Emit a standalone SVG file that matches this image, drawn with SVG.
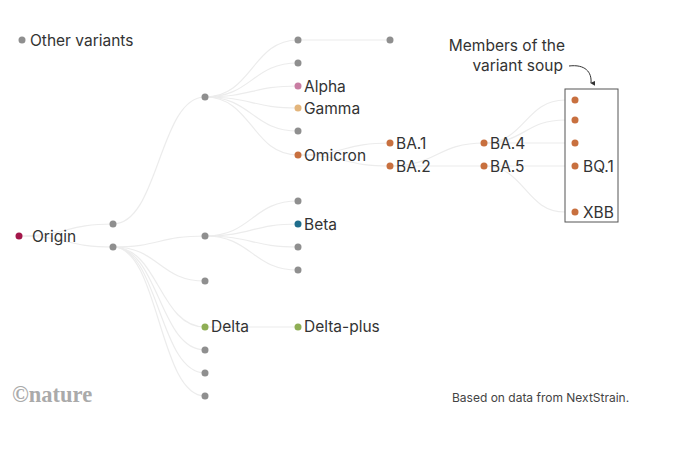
<svg xmlns="http://www.w3.org/2000/svg" width="675" height="451" viewBox="0 0 675 451">
<style>
text{font-family:"Inter","Liberation Sans",Arial,sans-serif;fill:#333;font-size:15.5px}
.d{fill:#8f8f8f}
.o{fill:#c8703f}
.c path{fill:none;stroke:#ececec;stroke-width:1.2}
.sm{font-size:12px;fill:#444}
</style>
<defs>
<marker id="ah" viewBox="0 0 6 6" refX="3" refY="5" markerWidth="5" markerHeight="5" orient="auto-start-reverse">
<path d="M0,0 L3,6 L6,0 Z" fill="#333"/>
</marker>
</defs>
<rect width="675" height="451" fill="#fff"/>
<g class="c" id="connectors">
<path d="M19,236 C66,236 66,224 113,224"/>
<path d="M19,236 C66,236 66,247 113,247"/>
<path d="M113,224 C159,224 159,97 205,97"/>
<path d="M113,247 C159,247 159,236 205,236"/>
<path d="M113,247 C159,247 159,281 205,281"/>
<path d="M113,247 C159,247 159,327 205,327"/>
<path d="M113,247 C159,247 159,350 205,350"/>
<path d="M113,247 C159,247 159,373 205,373"/>
<path d="M113,247 C159,247 159,396 205,396"/>
<path d="M205,97 C252,97 252,40 298,40"/>
<path d="M205,97 C252,97 252,63 298,63"/>
<path d="M205,97 C252,97 252,86 298,86"/>
<path d="M205,97 C252,97 252,108 298,108"/>
<path d="M205,97 C252,97 252,131 298,131"/>
<path d="M205,97 C252,97 252,155 298,155"/>
<path d="M205,236 C252,236 252,201 298,201"/>
<path d="M205,236 C252,236 252,224 298,224"/>
<path d="M205,236 C252,236 252,247 298,247"/>
<path d="M205,236 C252,236 252,270 298,270"/>
<path d="M205,327 L298,327"/>
<path d="M298,40 L390,40"/>
<path d="M298,155 C344,155 344,143 390,143"/>
<path d="M298,155 C344,155 344,166 390,166"/>
<path d="M390,166 C437,166 437,143 484,143"/>
<path d="M390,166 L484,166"/>
<path d="M484,143 C525,143 525,100 565,100"/>
<path d="M484,143 C525,143 525,120 565,120"/>
<path d="M484,143 L565,143"/>
<path d="M484,166 L565,166"/>
<path d="M484,166 C525,166 525,212 565,212"/>
</g>
<g id="legend"><circle cx="22" cy="40" r="3.5" class="d"/><text x="30" y="46">Other variants</text></g>
<g id="origin"><circle cx="19" cy="236" r="3.5" fill="#a3174a"/><text x="32" y="242">Origin</text></g>
<g id="n1a"><circle cx="113" cy="224" r="3.5" class="d"/></g>
<g id="n1b"><circle cx="113" cy="247" r="3.5" class="d"/></g>
<g id="n2a"><circle cx="205" cy="97" r="3.5" class="d"/></g>
<g id="n2b"><circle cx="205" cy="236" r="3.5" class="d"/></g>
<g id="n2c"><circle cx="205" cy="281" r="3.5" class="d"/></g>
<g id="delta"><circle cx="205" cy="327" r="3.5" fill="#8fae55"/><text x="211" y="332">Delta</text></g>
<g id="n2e"><circle cx="205" cy="350" r="3.5" class="d"/></g>
<g id="n2f"><circle cx="205" cy="373" r="3.5" class="d"/></g>
<g id="n2g"><circle cx="205" cy="396" r="3.5" class="d"/></g>
<g id="n3a"><circle cx="298" cy="40" r="3.5" class="d"/></g>
<g id="n3b"><circle cx="298" cy="63" r="3.5" class="d"/></g>
<g id="alpha"><circle cx="298" cy="86" r="3.5" fill="#c97ea3"/><text x="304" y="92">Alpha</text></g>
<g id="gamma"><circle cx="298" cy="108" r="3.5" fill="#e3b57c"/><text x="304" y="114">Gamma</text></g>
<g id="n3e"><circle cx="298" cy="131" r="3.5" class="d"/></g>
<g id="omicron"><circle cx="298" cy="155" r="3.5" class="o"/><text x="304" y="161">Omicron</text></g>
<g id="n3g"><circle cx="298" cy="201" r="3.5" class="d"/></g>
<g id="beta"><circle cx="298" cy="224" r="3.5" fill="#1f6d8c"/><text x="304" y="230">Beta</text></g>
<g id="n3i"><circle cx="298" cy="247" r="3.5" class="d"/></g>
<g id="n3j"><circle cx="298" cy="270" r="3.5" class="d"/></g>
<g id="deltaplus"><circle cx="298" cy="327" r="3.5" fill="#8fae55"/><text x="304" y="332">Delta-plus</text></g>
<g id="n4a"><circle cx="390" cy="40" r="3.5" class="d"/></g>
<g id="ba1"><circle cx="390" cy="143" r="3.5" class="o"/><text x="396" y="149">BA.1</text></g>
<g id="ba2"><circle cx="390" cy="166" r="3.5" class="o"/><text x="396" y="172">BA.2</text></g>
<g id="ba4"><circle cx="484" cy="143" r="3.5" class="o"/><text x="490" y="149">BA.4</text></g>
<g id="ba5"><circle cx="484" cy="166" r="3.5" class="o"/><text x="490" y="172">BA.5</text></g>
<g id="soup">
<rect x="565" y="89" width="53" height="133" fill="#fff" stroke="#555" stroke-width="1"/>
<circle cx="575" cy="100" r="3.5" class="o"/>
<circle cx="575" cy="120" r="3.5" class="o"/>
<circle cx="575" cy="143" r="3.5" class="o"/>
<circle cx="575" cy="166" r="3.5" class="o"/><text x="583" y="172">BQ.1</text>
<circle cx="575" cy="212" r="3.5" class="o"/><text x="583" y="218">XBB</text>
</g>
<g id="annotation">
<text x="565" y="51" text-anchor="end">Members of the</text>
<text x="563" y="71" text-anchor="end">variant soup</text>
<path d="M569,66 C585,64 592,72 591,83" fill="none" stroke="#333" stroke-width="1" marker-end="url(#ah)"/>
</g>
<text x="12" y="402" style="font-family:'Liberation Serif',serif;font-weight:bold;font-size:22.5px;fill:#aaa">©nature</text>
<text x="452" y="402" class="sm">Based on data from NextStrain.</text>
</svg>
